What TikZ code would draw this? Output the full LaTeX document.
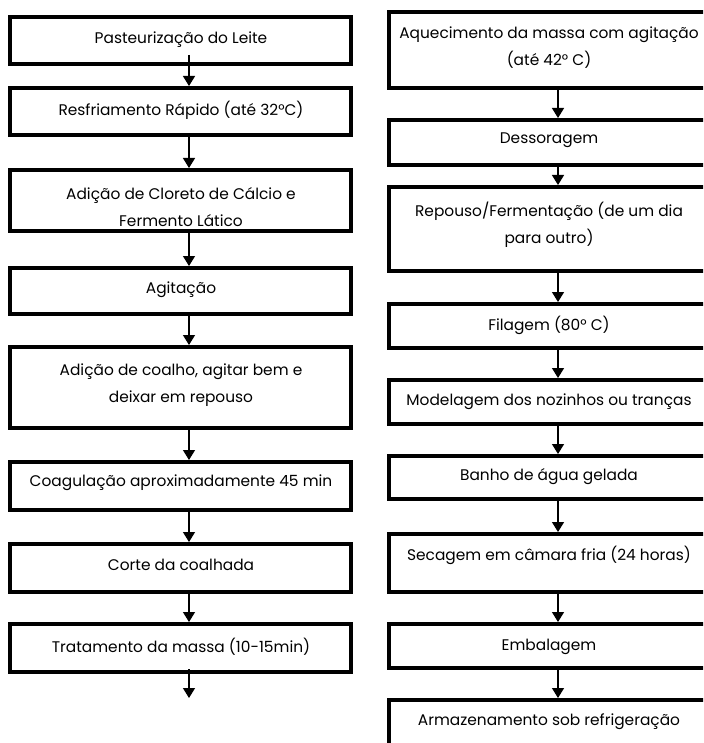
\documentclass[tikz,border=0pt]{standalone}
\usepackage{fontspec}
\setmainfont{Poppins}
\usetikzlibrary{arrows.meta}
\begin{document}
\begin{tikzpicture}[x=1pt,y=-1pt,
  box/.style={draw, line width=4pt, rectangle, inner sep=0pt},
  lbox/.style={box, minimum width=341pt},
  rbox/.style={box, minimum width=320pt},
  txt/.style={align=center, inner sep=0pt, font=\fontsize{15.4}{27}\selectfont},
  arr/.style={line width=1.3pt, -{Triangle[length=10pt,width=12pt]}}]
\useasboundingbox (0,0) rectangle (703,743);
\clip (0,0) rectangle (703,743);

% left column
\node[lbox, minimum height=47pt] (L1) at (180.5,40.5) {};
\node[lbox, minimum height=47pt] (L2) at (180.5,111.5) {};
\node[lbox, minimum height=61pt] (L3) at (180.5,200.5) {};
\node[lbox, minimum height=46pt] (L4) at (180.5,291) {};
\node[lbox, minimum height=81pt] (L5) at (180.5,387.5) {};
\node[lbox, minimum height=48pt] (L6) at (180.5,486) {};
\node[lbox, minimum height=48pt] (L7) at (180.5,568) {};
\node[lbox, minimum height=48pt] (L8) at (180.5,648) {};
\coordinate (Lend) at (189,698);

\node[txt] (L1t) at (181,40) {Pasteurização do Leite};
\node[txt] (L2t) at (181,110) {Resfriamento Rápido (até 32°C)};
\node[txt] (L3t) at (181,207) {Adição de Cloreto de Cálcio e\\Fermento Lático};
\node[txt] (L4t) at (181,290) {Agitação};
\node[txt] (L5t) at (181,385) {Adição de coalho, agitar bem e\\deixar em repouso};
\node[txt] (L6t) at (181,483) {Coagulação aproximadamente 45 min};
\node[txt] (L7t) at (181,565) {Corte da coalhada};
\node[txt] (L8t) at (181,647) {Tratamento da massa (10-15min)};

% right column
\node[rbox, minimum height=76pt] (R1) at (549,50) {};
\node[rbox, minimum height=45pt] (R2) at (549,142.5) {};
\node[rbox, minimum height=84pt] (R3) at (549,229) {};
\node[rbox, minimum height=44pt] (R4) at (549,326) {};
\node[rbox, minimum height=44pt] (R5) at (549,402) {};
\node[rbox, minimum height=43pt] (R6) at (549,477.5) {};
\node[rbox, minimum height=58pt] (R7) at (549,563) {};
\node[rbox, minimum height=44pt] (R8) at (549,646) {};
\node[rbox, minimum height=80pt] (R9) at (549,740) {};

\node[txt] (R1t) at (549,48) {Aquecimento da massa com agitação\\(até 42° C)};
\node[txt] (R2t) at (549,140) {Dessoragem};
\node[txt] (R3t) at (549,225) {Repouso/Fermentação (de um dia\\para outro)};
\node[txt] (R4t) at (549,325) {Filagem (80° C)};
\node[txt] (R5t) at (549,402) {Modelagem dos nozinhos ou tranças};
\node[txt] (R6t) at (549,477) {Banho de água gelada};
\node[txt] (R7t) at (549,555) {Secagem em câmara fria (24 horas)};
\node[txt] (R8t) at (549,647) {Embalagem};
\node[txt] (R9t) at (549,722) {Armazenamento sob refrigeração};

% connectors, left column
\draw[arr] ([xshift=8.5pt,yshift=11pt]L1.south) -- ([xshift=8.5pt]L2.north);
\draw[arr] ([xshift=8.5pt]L2.south) -- ([xshift=8.5pt]L3.north);
\draw[arr] ([xshift=8.5pt]L3.south) -- ([xshift=8.5pt]L4.north);
\draw[arr] ([xshift=8.5pt]L4.south) -- ([xshift=8.5pt]L5.north);
\draw[arr] ([xshift=8.5pt]L5.south) -- ([xshift=8.5pt]L6.north);
\draw[arr] ([xshift=8.5pt]L6.south) -- ([xshift=8.5pt]L7.north);
\draw[arr] ([xshift=8.5pt]L7.south) -- ([xshift=8.5pt]L8.north);
\draw[arr] ([xshift=8.5pt,yshift=5pt]L8.south) -- (Lend);

% connectors, right column
\draw[arr] ([xshift=9pt]R1.south) -- ([xshift=9pt]R2.north);
\draw[arr] ([xshift=9pt]R2.south) -- ([xshift=9pt]R3.north);
\draw[arr] ([xshift=9pt]R3.south) -- ([xshift=9pt]R4.north);
\draw[arr] ([xshift=9pt]R4.south) -- ([xshift=9pt]R5.north);
\draw[arr] ([xshift=9pt]R5.south) -- ([xshift=9pt]R6.north);
\draw[arr] ([xshift=9pt]R6.south) -- ([xshift=9pt]R7.north);
\draw[arr] ([xshift=9pt]R7.south) -- ([xshift=9pt]R8.north);
\draw[arr] ([xshift=9pt]R8.south) -- ([xshift=9pt]R9.north);
\end{tikzpicture}
\end{document}
